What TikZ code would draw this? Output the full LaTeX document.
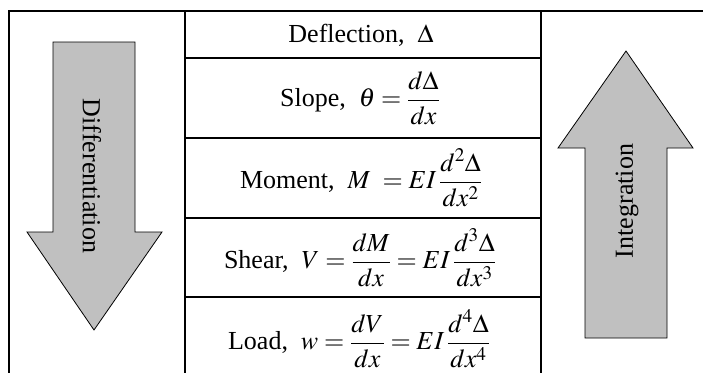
\documentclass[tikz,border=0pt]{standalone}
\usepackage{amsmath}
\usepackage{mathptmx}
\usepackage{fontspec}
\setmainfont{Liberation Serif}
\usetikzlibrary{positioning}
\definecolor{ink}{HTML}{000000}
\definecolor{arrowfill}{HTML}{C0C0C0}
\tikzset{
  font=\fontsize{26}{31}\selectfont,
  %
  grid/.style={draw=ink, line width=1.6pt},
  bigarrow/.style={draw=ink, fill=arrowfill, line width=0.8pt},
  %
  cell/.style={text=ink, inner sep=0pt},
  side/.style={text=ink, inner sep=0pt},
}

\begin{document}
\begin{tikzpicture}[x=1pt, y=-1pt]
  \useasboundingbox (0,0) rectangle (703,372);

  % table
  \draw[grid] (9,395) |- (720,11);
  \draw[grid] (185,11) -- (185,395);
  \draw[grid] (541,11) -- (541,395);
  \foreach \y in {58,138,218,297}
    \draw[grid] (185,\y) -- (541,\y);

  \node[cell] (defl) at (361,35) {Deflection,\ \ $\Delta$};
  \node[cell] (slope) at (360,98) {Slope,\ \ $\theta = \dfrac{d\Delta}{dx}$};
  \node[cell] (moment) at (361,178) {Moment,\ \ $M\ = EI\,\dfrac{d^2\Delta}{dx^2}$};
  \node[cell] (shear) at (360,258) {Shear,\ \ $V = \dfrac{dM}{dx} = EI\,\dfrac{d^3\Delta}{dx^3}$};
  \node[cell] (load) at (359,339) {Load,\ \ $w = \dfrac{dV}{dx} = EI\,\dfrac{d^4\Delta}{dx^4}$};

  % down arrow
  \draw[bigarrow] (53,42) -- (135,42) -- (135,232) -- (162,232)
    -- (94,330) -- (27,232) -- (53,232) -- cycle;
  \node[side, rotate=-90] (diff) at (92,176) {Differentiation};

  % up arrow
  \draw[bigarrow] (585,338) -- (667,338) -- (667,148) -- (693,148)
    -- (626,51) -- (558,148) -- (585,148) -- cycle;
  \node[side, rotate=90] (integ) at (627,201) {Integration};

\end{tikzpicture}
\end{document}
